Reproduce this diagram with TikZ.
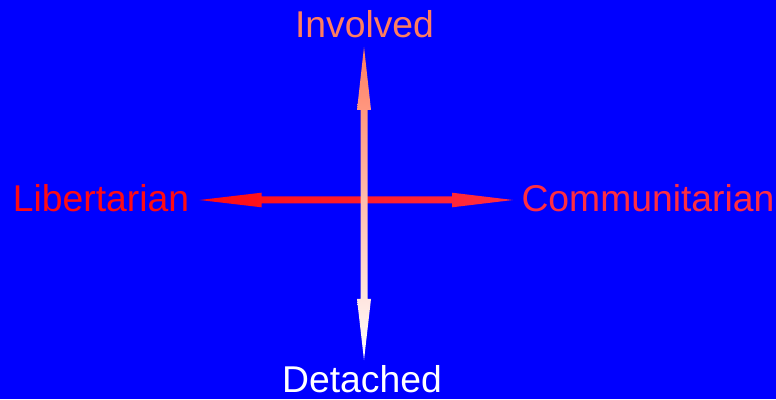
\documentclass[tikz,border=0pt]{standalone}
\usepackage{fontspec}
\setmainfont{Liberation Sans}
\usetikzlibrary{calc}
\definecolor{bg}{RGB}{0,0,255}
\definecolor{salmon}{RGB}{255,125,95}
\definecolor{libred}{RGB}{255,10,20}
\definecolor{comred}{RGB}{255,45,65}
\begin{document}
\begin{tikzpicture}[x=1pt,y=1pt]
\fill[bg] (0,0) rectangle (776,399);
\useasboundingbox (0,0) rectangle (776,399);
\tikzset{lbl/.style={inner sep=0pt, font=\fontsize{37.3}{37.3}\selectfont, anchor=base}}
\node[lbl, text=salmon] (inv) at (364.5,361.7) {Involved};
\node[lbl, text=white] (det) at (362,6.3) {Detached};
\node[lbl, text=libred] (lib) at (101,187) {Libertarian};
\node[lbl, text=comred] (com) at (648,187) {Communitarian};
% arrow end points
\coordinate (vt) at (364,352);
\coordinate (vb) at (364,39);
\coordinate (hl) at (199.5,199);
\coordinate (hr) at (513,199);
% horizontal double arrow
\shade[left color=libred, right color=comred]
  (hl) -- ($(hl)+(62,7.3)$) -- ($(hl)+(62,3.5)$) -- ($(hr)+(-61,3.5)$) -- ($(hr)+(-61,7.3)$)
  -- (hr) -- ($(hr)+(-61,-7.3)$) -- ($(hr)+(-61,-3.5)$) -- ($(hl)+(62,-3.5)$) -- ($(hl)+(62,-7.3)$) -- cycle;
% vertical double arrow
\shade[top color=salmon, bottom color=white]
  (vt) -- ($(vt)+(7,-63)$) -- ($(vt)+(3.5,-63)$) -- ($(vb)+(3.5,61)$) -- ($(vb)+(7,61)$)
  -- (vb) -- ($(vb)+(-7,61)$) -- ($(vb)+(-3.5,61)$) -- ($(vt)+(-3.5,-63)$) -- ($(vt)+(-7,-63)$) -- cycle;
\end{tikzpicture}
\end{document}
